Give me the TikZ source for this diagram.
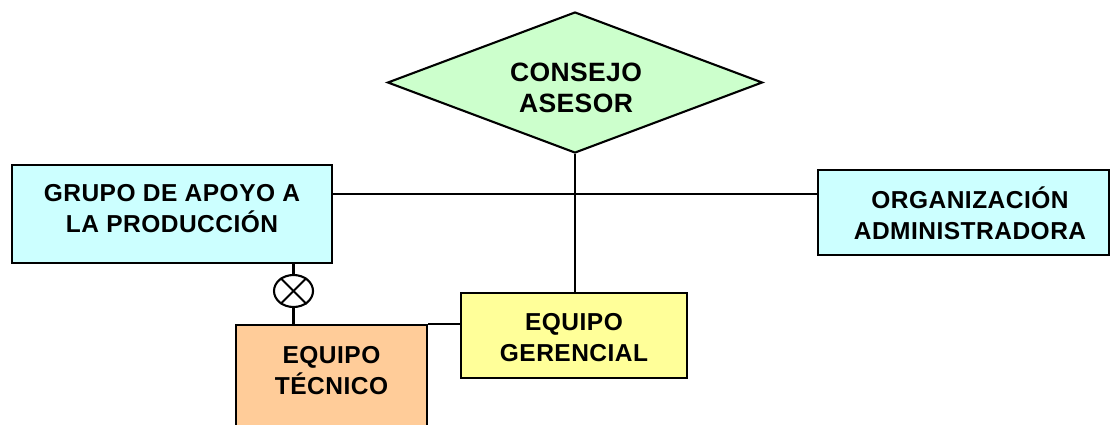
\documentclass[tikz,border=0pt]{standalone}
\usepackage{fontspec}
\setmainfont{Liberation Sans}
\usetikzlibrary{shapes.geometric}
\definecolor{cgreen}{RGB}{204,255,204}
\definecolor{ccyan}{RGB}{204,255,255}
\definecolor{cyel}{RGB}{255,255,153}
\definecolor{corange}{RGB}{255,204,153}
\tikzset{
  boxshape/.style={draw=black, line width=2.1pt, rectangle, inner sep=0pt},
  lbl/.style={font=\fontsize{24.5}{30.5}\selectfont\bfseries\addfontfeature{LetterSpace=2}, align=center, text=black, inner sep=0pt},
  widelbl/.style={lbl, font=\fontsize{26.5}{31}\selectfont\bfseries\addfontfeature{LetterSpace=1.5}},
  conn/.style={line width=2.1pt, draw=black}
}
\begin{document}
\begin{tikzpicture}[x=1pt,y=-1pt]
\clip (0,0) rectangle (1110,424);
\fill[white] (0,0) rectangle (1110,424);
% nodes
\node[draw=black, line width=2.1pt, fill=cgreen, diamond, inner sep=0pt, minimum width=375pt, minimum height=141pt] (dia) at (575,82.5) {};
\node[widelbl] (diat) at (576,88) {CONSEJO\\ASESOR};
\node[boxshape, fill=ccyan, minimum width=320pt, minimum height=98pt] (g) at (172,214) {};
\node[lbl] (gt) at (172,208.5) {GRUPO DE APOYO A\\LA PRODUCCIÓN};
\node[boxshape, fill=ccyan, minimum width=291pt, minimum height=85pt] (o) at (963.5,212.5) {};
\node[lbl] (ot) at (970,213.5) {ORGANIZACIÓN\\ADMINISTRADORA};
\node[boxshape, fill=cyel, minimum width=226pt, minimum height=85pt] (ger) at (574,335.5) {};
\node[lbl] (gert) at (574,337.5) {EQUIPO\\GERENCIAL};
\node[boxshape, fill=corange, minimum width=191pt, minimum height=130pt] (tec) at (331.5,390) {};
\node[lbl] (tect) at (331.5,370.5) {EQUIPO\\TÉCNICO};
\node[draw=black, line width=2.1pt, ellipse, fill=white, inner sep=0pt, minimum width=39pt, minimum height=32pt] (xc) at (293.5,291) {};
\coordinate (hl) at (575,194);
% connectors
\draw[conn] (g.east |- hl) -- (o.west |- hl);
\draw[conn] (dia.south) -- (ger.north -| dia.south);
\draw[conn] (g.south -| xc.north) -- (xc.north);
\draw[conn] (xc.south) -- (tec.north -| xc.south);
\draw[conn] (xc.45) -- (xc.225);
\draw[conn] (xc.135) -- (xc.315);
\draw[conn] (tec.north east) -- (ger.west |- tec.north east);
\end{tikzpicture}
\end{document}
